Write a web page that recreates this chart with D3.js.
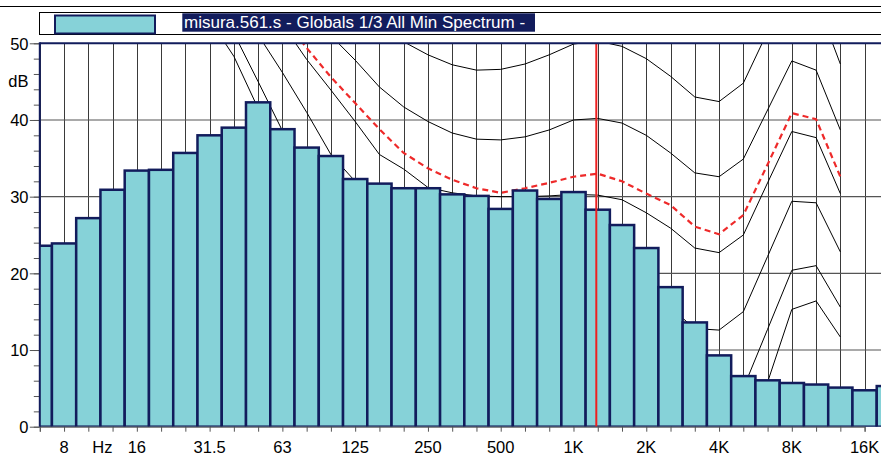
<!DOCTYPE html>
<html>
<head>
<meta charset="utf-8">
<script src="https://cdn.jsdelivr.net/npm/d3@7"></script>
<style>
body { margin: 0; background: #fff; }
svg { display: block; font-family: "Liberation Sans", Arial, sans-serif; }
</style>
</head>
<body>
<svg id="chart" width="881" height="457"></svg>
<script>
// 1/3 octave bands, 6.3 Hz .. 20 kHz
var bands = ["6.3","8","10","12.5","16","20","25","31.5","40","50","63","80","100","125","160","200","250","315","400","500","630","800","1K","1.25K","1.6K","2K","2.5K","3.15K","4K","5K","6.3K","8K","10K","12.5K","16K","20K"];

// measured spectrum, dB
var spectrum = [23.6,23.9,27.2,30.9,33.4,33.5,35.7,38.0,39.0,42.3,38.8,36.4,35.3,32.3,31.7,31.1,31.1,30.3,30.1,28.4,30.8,29.7,30.6,28.3,26.3,23.3,18.2,13.6,9.3,6.6,6.05,5.7,5.5,5.1,4.75,5.3];

// isophonic curves (6.3 Hz .. 12.5 kHz), null = not drawn
var curveMin = [null,null,null,null,null,null,null,53.1,48.3,41.5,35,29,23.5,18.5,14.5,11.5,9,7,5.5,4.5,4,3.5,3,3,2.5,1.5,1,0.5,0.5,1,5.8,15.3,16.4,11.7];
var curve10 = [null,null,null,null,null,null,null,57,51.3,45.0,38.6,33,27.5,22.5,19,16,14,12.5,11.5,11,10.8,10.2,10.0,10.2,9.6,8.2,6,4,3.8,5.0,12.7,20.4,21.0,15.6];
var curve20 = [null,null,null,null,null,null,null,null,57.5,51.1,46.2,41.0,35.5,32.0,27.5,25.0,23.0,21.8,21.0,20.6,20.4,20.0,20.0,20.2,19.6,18.0,15.5,12.8,12.6,15.0,22.2,29.4,29.2,22.8];
var curve30 = [null,null,null,null,null,null,null,null,null,57,52.5,47.9,43.9,39.8,35.5,33.6,31.2,30.5,30.1,30.0,30.0,30.1,30.3,30.2,29.6,27.9,25.9,23.3,22.7,25.0,31.8,38.5,37.7,30.4];
var curve40 = [null,null,null,null,null,null,null,null,null,null,null,55,51.0,47.8,44.3,41.7,39.8,38.3,37.5,37.4,37.8,38.7,40.0,40.2,39.6,38.0,35.7,33.1,32.6,34.9,41.3,47.7,46.5,38.7];
var curve50 = [null,null,null,null,null,null,null,null,null,null,null,null,null,null,53.5,50.2,48.5,47.2,46.5,46.6,47.3,48.5,49.9,50.3,49.6,48.0,45.7,43.0,42.4,44.8,51.5,57.0,55.7,47.3];
// loudness curve of the measurement (red dashed)
var curveLevel = [null,null,null,null,null,null,null,null,null,null,53.5,49.4,45.6,42.2,38.8,35.7,33.7,32.2,31.1,30.5,31.1,31.8,32.6,33.0,32.0,30.4,28.9,26.1,25.1,27.6,34.2,40.9,40.1,32.6];

var yTicks = [0,10,20,30,40,50];
var xLabelBands = ["8","16","31.5","63","125","250","500","1K","2K","4K","8K","16K"];
var cursorBand = 22.94;
var legendText = "misura.561.s - Globals 1/3 All Min Spectrum -";

var barFill = "#86d2d8", navy = "#121c5c";
var svg = d3.select("#chart");
var plot = {left: 39.8, top: 43.3, bottom: 426.7, right: 881};

var x = d3.scaleLinear().domain([0, 34]).range([39.8, 864.6]);
var y = d3.scaleLinear().domain([0, 50]).range([plot.bottom, plot.top]);

svg.append("clipPath").attr("id", "clip")
   .append("rect")
   .attr("x", plot.left).attr("y", plot.top)
   .attr("width", plot.right - plot.left).attr("height", plot.bottom - plot.top);

var g = svg.append("g").attr("clip-path", "url(#clip)");

// grid
g.selectAll(".vg").data(bands).enter().append("line")
 .attr("x1", function(d, i) { return Math.round(x(i)) + 0.5; })
 .attr("x2", function(d, i) { return Math.round(x(i)) + 0.5; })
 .attr("y1", plot.top).attr("y2", plot.bottom)
 .attr("stroke", "#3a3a3a").attr("stroke-width", 1);

g.selectAll(".hg").data([10,20,30,40]).enter().append("line")
 .attr("x1", plot.left).attr("x2", plot.right)
 .attr("y1", function(d) { return y(d); })
 .attr("y2", function(d) { return y(d); })
 .attr("stroke", "#555").attr("stroke-width", 1.2);

// curves
var line = d3.line()
  .defined(function(d) { return d != null; })
  .x(function(d, i) { return x(i); })
  .y(function(d) { return y(d); });

[curveMin, curve10, curve20, curve30, curve40, curve50].forEach(function(c) {
  g.append("path").attr("d", line(c))
   .attr("fill", "none").attr("stroke", "#000").attr("stroke-width", 1);
});
g.append("path").attr("d", line(curveLevel))
 .attr("fill", "none").attr("stroke", "#ee2a2a")
 .attr("stroke-width", 2.2).attr("stroke-dasharray", "6,4");

// bars
g.selectAll(".bar").data(spectrum).enter().append("rect")
 .attr("x", function(d, i) { return x(i - 0.5); })
 .attr("width", function(d, i) { return x(i + 0.5) - x(i - 0.5); })
 .attr("y", function(d) { return y(d); })
 .attr("height", function(d) { return y(0) - y(d); })
 .attr("fill", barFill).attr("stroke", navy).attr("stroke-width", 2.5);

// cursor
g.append("line")
 .attr("x1", x(cursorBand)).attr("x2", x(cursorBand))
 .attr("y1", plot.top).attr("y2", plot.bottom)
 .attr("stroke", "#ee2020").attr("stroke-width", 2);

// y axis
var yMajor = d3.axisLeft(y).tickValues(yTicks).tickSize(10).tickFormat("");
var yMinor = d3.axisLeft(y).tickValues(d3.range(0, 51, 2)).tickSize(6).tickFormat("");
[yMinor, yMajor].forEach(function(a) {
  var ga = svg.append("g").attr("transform", "translate(" + plot.left + ",0)").call(a);
  ga.select(".domain").remove();
  ga.selectAll("line").attr("stroke", "#555");
});
svg.selectAll(".ylab").data(yTicks).enter().append("text")
 .attr("x", 28.5).attr("y", function(d) { return y(d) + 6.2; })
 .attr("text-anchor", "end").attr("font-size", 16.5).text(function(d) { return d; });
svg.append("text").attr("x", 28.5).attr("y", 87.3)
 .attr("text-anchor", "end").attr("font-size", 16.5).text("dB");

// x axis
var xa = svg.append("g").attr("transform", "translate(0," + plot.bottom + ")")
  .call(d3.axisBottom(x).tickValues(d3.range(0, 36)).tickSize(5).tickFormat(""));
xa.select(".domain").attr("stroke", "#555");
xa.selectAll("line").attr("stroke", "#555");

svg.selectAll(".xlab").data(xLabelBands).enter().append("text")
 .attr("x", function(d) { return x(bands.indexOf(d)); })
 .attr("y", 453.3).attr("text-anchor", "middle").attr("font-size", 16.5)
 .text(function(d) { return d; });
svg.append("text")
 .attr("x", (x(bands.indexOf("10")) + x(bands.indexOf("12.5"))) / 2 + 2)
 .attr("y", 453.3).attr("text-anchor", "middle").attr("font-size", 16.5).text("Hz");

// plot frame
svg.append("line").attr("x1", plot.left).attr("x2", plot.right)
   .attr("y1", plot.top).attr("y2", plot.top)
   .attr("stroke", navy).attr("stroke-width", 2);
svg.append("line").attr("x1", plot.left).attr("x2", plot.left)
   .attr("y1", plot.top - 1).attr("y2", plot.bottom)
   .attr("stroke", navy).attr("stroke-width", 2);

// legend
svg.append("line").attr("x1", 0).attr("x2", 881).attr("y1", 6.5).attr("y2", 6.5)
   .attr("stroke", "#000").attr("stroke-width", 1);
svg.append("rect").attr("x", 39.5).attr("y", 12.5).attr("width", 900).attr("height", 22)
   .attr("fill", "#fff").attr("stroke", "#000").attr("stroke-width", 1);
svg.append("rect").attr("x", 55).attr("y", 15.5).attr("width", 100).attr("height", 18)
   .attr("fill", barFill).attr("stroke", navy).attr("stroke-width", 2);
svg.append("rect").attr("x", 182.3).attr("y", 13.3).attr("width", 352.7).attr("height", 18.4)
   .attr("fill", navy);
svg.append("text").attr("x", 184).attr("y", 28.3).attr("fill", "#fff")
   .attr("font-size", 17).text(legendText);
</script>
</body>
</html>
